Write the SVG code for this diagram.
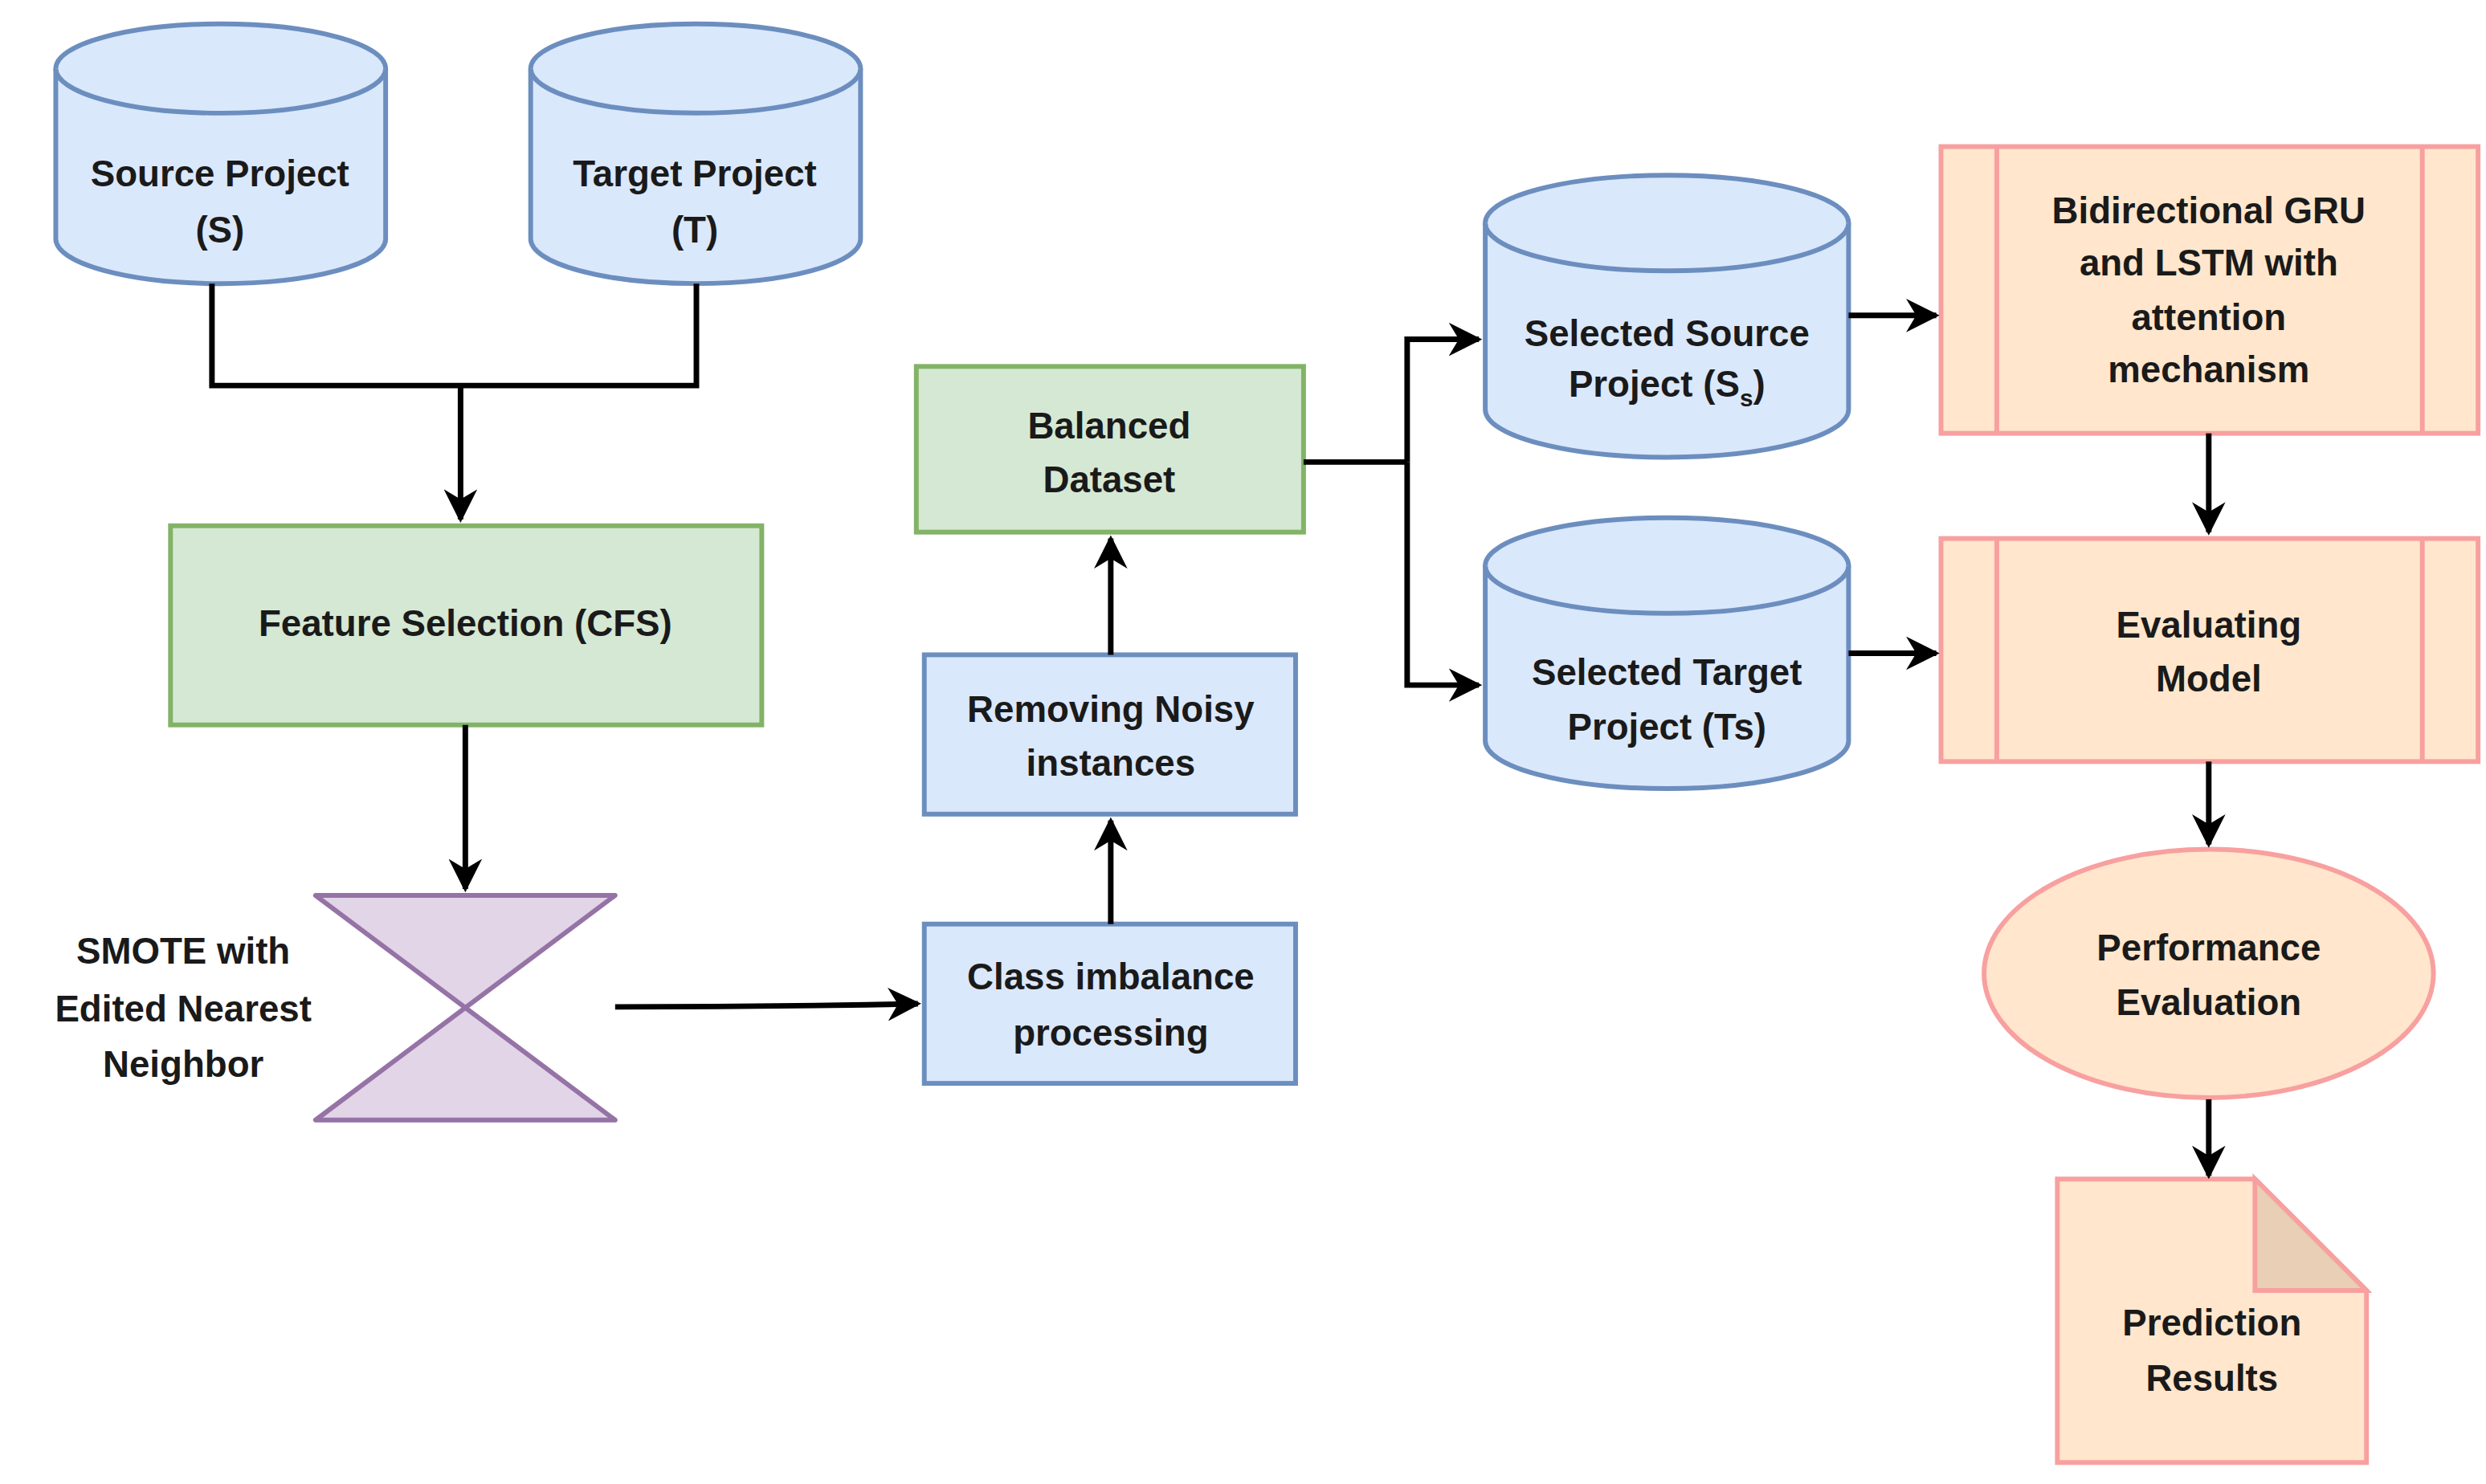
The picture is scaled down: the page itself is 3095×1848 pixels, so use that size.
<svg xmlns="http://www.w3.org/2000/svg" width="3095" height="1848" viewBox="0 0 3095 1848">
<style>
.t{font-family:"Liberation Sans",Arial,sans-serif;font-size:23px;font-weight:bold;fill:#1a1a1a;text-anchor:middle}
.blue{fill:#dae8fc;stroke:#6c8ebf;stroke-width:3}
.green{fill:#d5e8d4;stroke:#82b366;stroke-width:3}
.red{fill:#ffe6cc;stroke:#f8a0a0;stroke-width:3}
.c{fill:none;stroke:#000;stroke-width:3.5}
</style>
<defs>
<marker id="ah" viewBox="0 0 10 10" refX="9" refY="5" markerWidth="6" markerHeight="6" orient="auto">
<path d="M0,0 L10,5 L0,10 L3,5 Z" fill="#000"/>
</marker>
</defs>
<rect width="3095" height="1848" fill="#fff"/>
<g transform="scale(1.984)">
<g id="src">
<path class="blue" d="M35,43 A103.5,28 0 0 1 242,43 V150 A103.5,28 0 0 1 35,150 Z"/>
<path class="blue" fill="none" d="M35,43 A103.5,28 0 0 0 242,43"/>
<text class="t" x="138" y="117">Source Project</text><text class="t" x="138" y="152">(S)</text>
</g>
<g id="tgt">
<path class="blue" d="M333,43 A103.5,28 0 0 1 540,43 V150 A103.5,28 0 0 1 333,150 Z"/>
<path class="blue" fill="none" d="M333,43 A103.5,28 0 0 0 540,43"/>
<text class="t" x="436" y="117">Target Project</text><text class="t" x="436" y="152">(T)</text>
</g>
<g id="fs"><rect class="green" x="107" y="330" width="371" height="125"/>
<text class="t" x="292" y="399">Feature Selection (CFS)</text></g>
<g id="smote">
<path d="M198,562 H386 L198,703 H386 Z" fill="#e1d5e7" stroke="#9673a6" stroke-width="3" stroke-linejoin="round"/>
<text class="t" x="115" y="605">SMOTE with</text><text class="t" x="115" y="641">Edited Nearest</text><text class="t" x="115" y="676">Neighbor</text>
</g>
<g id="cip"><rect class="blue" x="580" y="580" width="233" height="100"/>
<text class="t" x="697" y="621">Class imbalance</text><text class="t" x="697" y="656">processing</text></g>
<g id="rni"><rect class="blue" x="580" y="411" width="233" height="100"/>
<text class="t" x="697" y="453">Removing Noisy</text><text class="t" x="697" y="487">instances</text></g>
<g id="bd"><rect class="green" x="575" y="230" width="243" height="104"/>
<text class="t" x="696" y="275">Balanced</text><text class="t" x="696" y="309">Dataset</text></g>
<g id="ss">
<path class="blue" d="M932,140 A114,30 0 0 1 1160,140 V257 A114,30 0 0 1 932,257 Z"/>
<path class="blue" fill="none" d="M932,140 A114,30 0 0 0 1160,140"/>
<text class="t" x="1046" y="217">Selected Source</text><text class="t" x="1046" y="249">Project (S<tspan font-size="15" dy="6">s</tspan><tspan dy="-6">)</tspan></text>
</g>
<g id="ts">
<path class="blue" d="M932,355 A114,30 0 0 1 1160,355 V465 A114,30 0 0 1 932,465 Z"/>
<path class="blue" fill="none" d="M932,355 A114,30 0 0 0 1160,355"/>
<text class="t" x="1046" y="430">Selected Target</text><text class="t" x="1046" y="464">Project (Ts)</text>
</g>
<g id="bi"><rect class="red" x="1218" y="92" width="337" height="180"/>
<path class="red" d="M1253,92 V272 M1520,92 V272"/>
<text class="t" x="1386" y="140">Bidirectional GRU</text><text class="t" x="1386" y="173">and LSTM with</text><text class="t" x="1386" y="207">attention</text><text class="t" x="1386" y="240">mechanism</text></g>
<g id="em"><rect class="red" x="1218" y="338" width="337" height="140"/>
<path class="red" d="M1253,338 V478 M1520,338 V478"/>
<text class="t" x="1386" y="400">Evaluating</text><text class="t" x="1386" y="434">Model</text></g>
<g id="pe"><ellipse class="red" cx="1386" cy="611" rx="141" ry="78"/>
<text class="t" x="1386" y="603">Performance</text><text class="t" x="1386" y="637">Evaluation</text></g>
<g id="pr"><path class="red" d="M1291,740 H1415 L1485,810 V918 H1291 Z"/>
<path d="M1415,740 V810 H1485 Z" fill="#e8cfb5" stroke="#f8a0a0" stroke-width="3"/>
<text class="t" x="1388" y="838">Prediction</text><text class="t" x="1388" y="873">Results</text></g>
<g id="connectors">
<path class="c" d="M133,178 V242 H437 V178"/>
<path class="c" d="M289,242 V326" marker-end="url(#ah)"/>
<path class="c" d="M292,455 V558" marker-end="url(#ah)"/>
<path class="c" d="M386,632 Q480,632 576,630" marker-end="url(#ah)"/>
<path class="c" d="M697,580 V515" marker-end="url(#ah)"/>
<path class="c" d="M697,411 V338" marker-end="url(#ah)"/>
<path class="c" d="M818,290 H883"/>
<path class="c" d="M883,290 V213 H928" marker-end="url(#ah)"/>
<path class="c" d="M883,290 V430 H928" marker-end="url(#ah)"/>
<path class="c" d="M1160,198 H1215" marker-end="url(#ah)"/>
<path class="c" d="M1160,410 H1215" marker-end="url(#ah)"/>
<path class="c" d="M1386,272 V334" marker-end="url(#ah)"/>
<path class="c" d="M1386,478 V530" marker-end="url(#ah)"/>
<path class="c" d="M1386,690 V738" marker-end="url(#ah)"/>
</g>
</g>
</svg>
